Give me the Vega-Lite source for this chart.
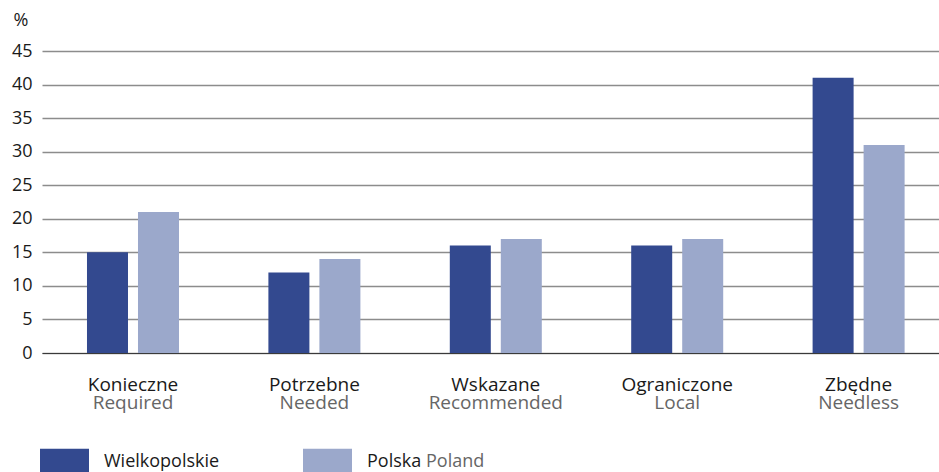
{
  "$schema": "https://vega.github.io/schema/vega-lite/v6.json",
  "width": 897,
  "height": 302,
  "autosize": {"type": "none"},
  "padding": {"left": 42, "top": 51, "right": 0, "bottom": 119},
  "data": {
    "values": [
      {"cat": "Konieczne", "series": "Wielkopolskie", "value": 15},
      {"cat": "Konieczne", "series": "Polska", "value": 21},
      {"cat": "Potrzebne", "series": "Wielkopolskie", "value": 12},
      {"cat": "Potrzebne", "series": "Polska", "value": 14},
      {"cat": "Wskazane", "series": "Wielkopolskie", "value": 16},
      {"cat": "Wskazane", "series": "Polska", "value": 17},
      {"cat": "Ograniczone", "series": "Wielkopolskie", "value": 16},
      {"cat": "Ograniczone", "series": "Polska", "value": 17},
      {"cat": "Zbędne", "series": "Wielkopolskie", "value": 41},
      {"cat": "Zbędne", "series": "Polska", "value": 31}
    ]
  },
  "config": {
    "view": {"stroke": null},
    "font": "Open Sans"
  },
  "layer": [
    {
      "mark": {"type": "bar"},
      "encoding": {
        "x": {
          "field": "cat",
          "type": "nominal",
          "sort": ["Konieczne", "Potrzebne", "Wskazane", "Ograniczone", "Zbędne"],
          "scale": {"range": [0, 907.6], "paddingInner": 0.4928, "paddingOuter": 0.248},
          "axis": {
            "orient": "bottom",
            "title": null,
            "labelAngle": 0,
            "labelFont": "Open Sans",
            "labelFontSize": 19,
            "labelColor": "#1a1a1a",
            "labelBaseline": "alphabetic",
            "labelPadding": 37,
            "ticks": false,
            "domainColor": "#3a3a3a",
            "domainWidth": 1,
            "grid": false
          }
        },
        "xOffset": {
          "field": "series",
          "sort": ["Wielkopolskie", "Polska"],
          "scale": {"paddingInner": 0.196, "paddingOuter": 0}
        },
        "y": {
          "field": "value",
          "type": "quantitative",
          "scale": {"domain": [0, 45], "nice": false},
          "axis": {
            "title": "%",
            "titleAngle": 0,
            "titleAlign": "left",
            "titleBaseline": "middle",
            "titleX": -29,
            "titleY": -31,
            "titleFont": "Open Sans",
            "titleFontSize": 18,
            "titleFontWeight": "normal",
            "titleColor": "#1a1a1a",
            "values": [0, 5, 10, 15, 20, 25, 30, 35, 40, 45],
            "labelFont": "Open Sans",
            "labelFontSize": 18,
            "labelColor": "#1a1a1a",
            "labelPadding": 10,
            "labelOverlap": false,
            "ticks": false,
            "domain": false,
            "gridColor": "#8c8c8c",
            "gridWidth": 1.5
          }
        },
        "color": {
          "field": "series",
          "type": "nominal",
          "scale": {"domain": ["Wielkopolskie", "Polska"], "range": ["#33498f", "#9ba8cb"]},
          "legend": {
            "orient": "none",
            "legendX": -2,
            "legendY": 386,
            "direction": "horizontal",
            "title": null,
            "padding": 0,
            "symbolType": "M-1,-0.53H1V0.53H-1Z",
            "symbolSize": 2401,
            "symbolStrokeWidth": 0,
            "symbolOpacity": 1,
            "labelFont": "Open Sans",
            "labelFontSize": 18,
            "labelColor": "#1a1a1a",
            "labelOffset": 15,
            "columnPadding": 83
          }
        }
      }
    },
    {
      "mark": {"type": "point", "opacity": 0},
      "encoding": {
        "x": {
          "field": "cat",
          "type": "nominal",
          "sort": ["Konieczne", "Potrzebne", "Wskazane", "Ograniczone", "Zbędne"],
          "axis": {
            "orient": "bottom",
            "title": null,
            "labelAngle": 0,
            "labelFont": "Open Sans",
            "labelFontSize": 19,
            "labelColor": "#666666",
            "labelBaseline": "alphabetic",
            "labelPadding": 55,
            "ticks": false,
            "domain": false,
            "grid": false,
            "labelExpr": "datum.value == 'Konieczne' ? 'Required' : datum.value == 'Potrzebne' ? 'Needed' : datum.value == 'Wskazane' ? 'Recommended' : datum.value == 'Ograniczone' ? 'Local' : 'Needless'"
          }
        },
        "y": {
          "datum": 0,
          "type": "quantitative",
          "axis": {
            "title": "%",
            "titleAngle": 0,
            "titleAlign": "left",
            "titleBaseline": "middle",
            "titleX": -29,
            "titleY": -31,
            "titleFont": "Open Sans",
            "titleFontSize": 18,
            "titleFontWeight": "normal",
            "titleColor": "#1a1a1a",
            "values": [0, 5, 10, 15, 20, 25, 30, 35, 40, 45],
            "labelFont": "Open Sans",
            "labelFontSize": 18,
            "labelColor": "#1a1a1a",
            "labelPadding": 10,
            "labelOverlap": false,
            "ticks": false,
            "domain": false,
            "gridColor": "#8c8c8c",
            "gridWidth": 1.5
          }
        },
        "shape": {
          "datum": "Poland",
          "legend": {
            "orient": "none",
            "legendX": 320,
            "legendY": 386,
            "title": null,
            "padding": 0,
            "symbolType": "M0,-0.53V0.53",
            "symbolSize": 2401,
            "symbolOpacity": 0,
            "symbolStrokeWidth": 0,
            "labelFont": "Open Sans",
            "labelFontSize": 18,
            "labelColor": "#666666",
            "labelOffset": 15
          }
        }
      }
    }
  ],
  "resolve": {"axis": {"x": "independent"}}
}
